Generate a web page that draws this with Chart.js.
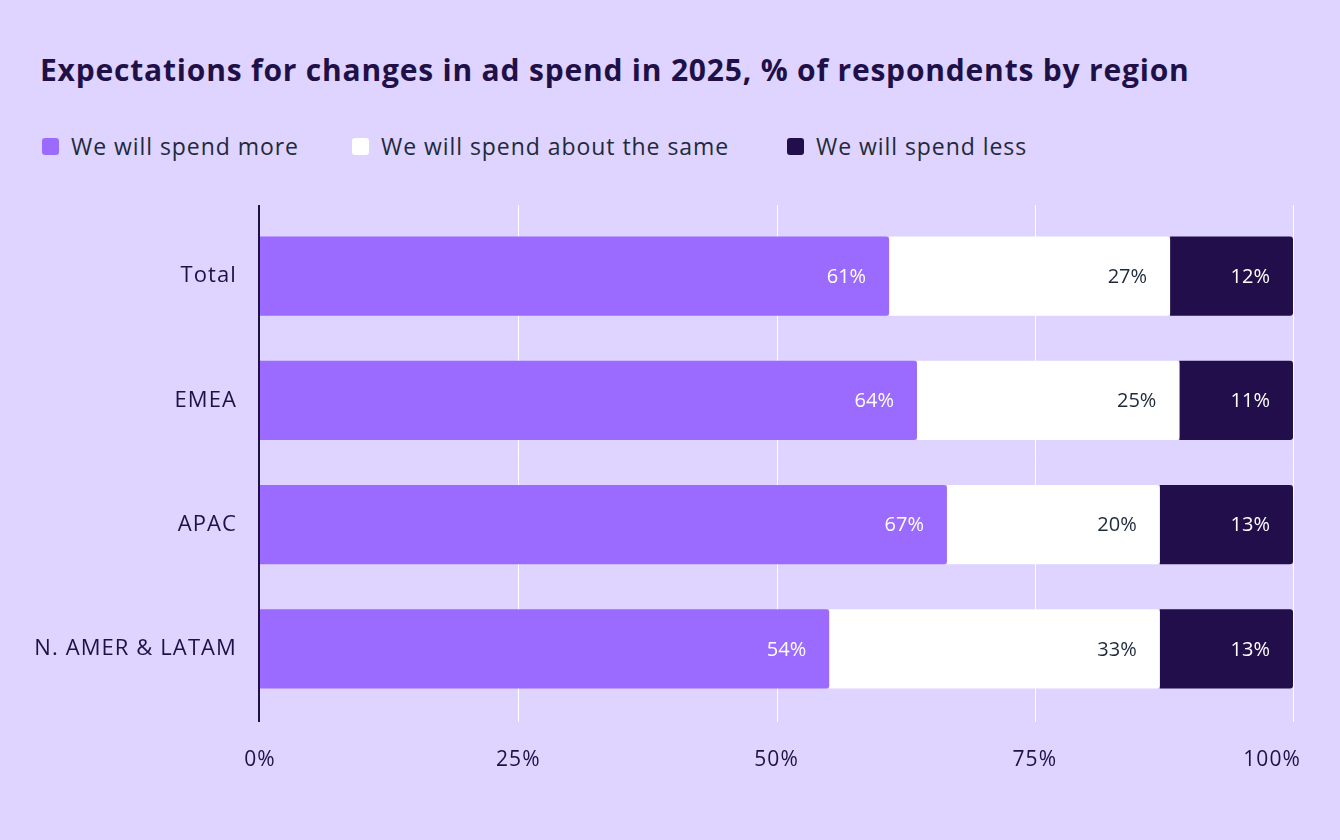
<!DOCTYPE html>
<html>
<head>
<meta charset="utf-8">
<script src="https://cdn.jsdelivr.net/npm/chart.js"></script>
<style>
    html, body { margin: 0; padding: 0; }
    body { width: 1340px; height: 840px; background: #dfd3ff; position: relative; overflow: hidden;
           font-family: "Open Sans", sans-serif; }
    h1 { position: absolute; left: 40px; top: 50px; margin: 0; font-size: 30px; font-weight: 700;
         color: #1f1147; letter-spacing: 0.8px; white-space: nowrap; line-height: 40px; }
    .legend { position: absolute; top: 132px; left: 42px; height: 30px; }
    .legend span { position: absolute; top: 0; white-space: nowrap; font-size: 23px; color: #1e2a3b;
                   line-height: 28px; letter-spacing: 0.95px; }
    .legend i { position: absolute; top: 6px; width: 17px; height: 17px; border-radius: 3px; }
    #wrap { position: absolute; left: 0; top: 190px; width: 1340px; height: 650px; }
</style>
</head>
<body>
<h1 id="title"></h1>
<div class="legend" id="legend"></div>
<div id="wrap"><canvas id="c"></canvas></div>
<script>
/* ── data ─────────────────────────────────────────── */
const title = 'Expectations for changes in ad spend in 2025, % of respondents by region';
const regions = ['Total', 'EMEA', 'APAC', 'N. AMER & LATAM'];
const seriesNames = ['We will spend more', 'We will spend about the same', 'We will spend less'];
const spendMore = [60.9, 63.6, 66.5, 55.1];
const spendSame = [27.2, 25.4, 20.6, 32.0];
const spendLess = [11.9, 11.0, 12.9, 12.9];
const moreLabels = ['61%', '64%', '67%', '54%'];
const sameLabels = ['27%', '25%', '20%', '33%'];
const lessLabels = ['12%', '11%', '13%', '13%'];
const xTicks = [0, 25, 50, 75, 100];

const colors = ['#9b6bff', '#ffffff', '#210e4a'];
const labelColors = ['#ffffff', '#1e2a3b', '#ffffff'];
const dark = '#1f1147';

/* ── html title + legend ──────────────────────────── */
document.getElementById('title').textContent = title;
const legendX = [0, 310, 745];
document.getElementById('legend').innerHTML = seriesNames.map((n, i) =>
    `<i style="left:${legendX[i]}px;background:${colors[i]}"></i>` +
    `<span style="left:${legendX[i] + 29}px">${n}</span>`).join('');

/* ── plugins ──────────────────────────────────────── */
const spacingPlugin = {
    id: 'spacing',
    beforeLayout(ch) { ch.ctx.letterSpacing = '1.1px'; },
    beforeDraw(ch) { ch.ctx.letterSpacing = '1.1px'; }
};

const gridPlugin = {
    id: 'grid',
    beforeDatasetsDraw(ch) {
        const { ctx, chartArea: a, scales: { x } } = ch;
        ctx.save();
        ctx.strokeStyle = '#ffffff';
        ctx.lineWidth = 1;
        xTicks.slice(1).forEach(v => {
            const px = Math.round(x.getPixelForValue(v)) + 0.5;
            ctx.beginPath(); ctx.moveTo(px, a.top - 9); ctx.lineTo(px, a.bottom + 11); ctx.stroke();
        });
        ctx.strokeStyle = dark;
        ctx.lineWidth = 2;
        const x0 = x.getPixelForValue(0) - 1;
        ctx.beginPath(); ctx.moveTo(x0, a.top - 9); ctx.lineTo(x0, a.bottom + 11); ctx.stroke();

        /* x tick labels; the last one is kept inside the right edge */
        ctx.letterSpacing = '1.1px';
        ctx.font = '21px "Open Sans", sans-serif';
        ctx.fillStyle = dark;
        ctx.textBaseline = 'middle';
        xTicks.forEach(v => {
            const px = x.getPixelForValue(v);
            const txt = v + '%';
            const w = ctx.measureText(txt).width;
            if (px + w / 2 > a.right + 8) {
                ctx.textAlign = 'right';
                ctx.fillText(txt, a.right + 8, a.bottom + 49);
            } else {
                ctx.textAlign = 'center';
                ctx.fillText(txt, px, a.bottom + 49);
            }
        });
        ctx.restore();
    }
};

const labelPlugin = {
    id: 'vals',
    afterDatasetsDraw(ch) {
        const { ctx } = ch;
        ctx.save();
        ctx.letterSpacing = '0px';
        ctx.font = '20px "Open Sans", sans-serif';
        ctx.textAlign = 'right';
        ctx.textBaseline = 'middle';
        ch.data.datasets.forEach((ds, di) => {
            ch.getDatasetMeta(di).data.forEach((el, i) => {
                ctx.fillStyle = labelColors[di];
                ctx.fillText(ds.valueLabels[i], el.x - 23, el.y + 1);
            });
        });
        ctx.restore();
    }
};

/* ── chart ────────────────────────────────────────── */
const radius = { topLeft: 0, bottomLeft: 0, topRight: 3, bottomRight: 3 };
const values = [spendMore, spendSame, spendLess];
const valueLabels = [moreLabels, sameLabels, lessLabels];

new Chart(document.getElementById('c'), {
    type: 'bar',
    data: {
        labels: regions,
        datasets: seriesNames.map((n, i) => ({
            label: n,
            data: values[i],
            valueLabels: valueLabels[i],
            backgroundColor: colors[i],
            borderWidth: 0,
            borderRadius: radius,
            borderSkipped: false,
            categoryPercentage: 1,
            barPercentage: 0.636
        }))
    },
    options: {
        indexAxis: 'y',
        responsive: true,
        maintainAspectRatio: false,
        animation: false,
        layout: { padding: { top: 24, right: 47, bottom: 69, left: 0 } },
        plugins: { legend: { display: false }, tooltip: { enabled: false } },
        scales: {
            x: {
                stacked: true, min: 0, max: 100,
                afterBuildTicks: s => { s.ticks = xTicks.map(v => ({ value: v })); },
                afterFit: s => { s.height = 60; s.paddingLeft = 0; s.paddingRight = 0; },
                grid: { display: false, drawTicks: false },
                border: { display: false },
                ticks: { display: false }
            },
            y: {
                stacked: true,
                afterFit: s => { s.width = 260; s.paddingTop = 0; s.paddingBottom = 0; },
                grid: { display: false, drawTicks: false },
                border: { display: false },
                ticks: { padding: 23, color: dark, font: { family: 'Open Sans', size: 22, weight: 500 } }
            }
        }
    },
    plugins: [spacingPlugin, gridPlugin, labelPlugin]
});
</script>
</body>
</html>
